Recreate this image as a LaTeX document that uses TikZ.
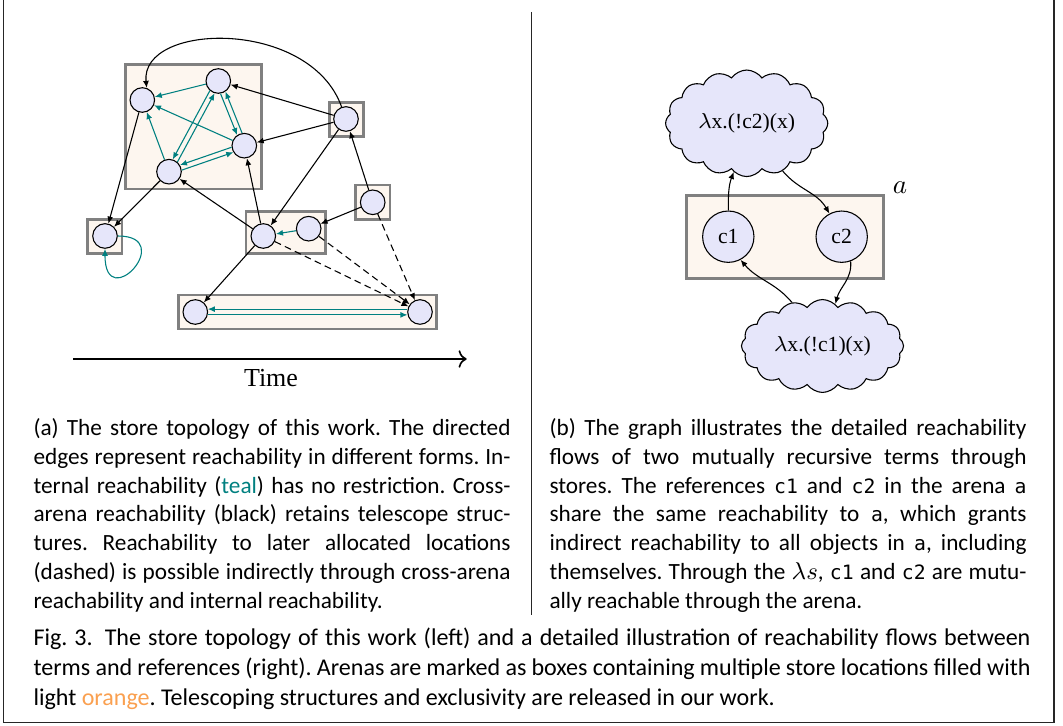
\documentclass[tikz,border=0pt]{standalone}
\usepackage{fontspec}
\setmainfont{Carlito}
\newfontfamily\graphfont{Liberation Serif}
\newfontfamily\codefont{DejaVu Sans Mono}[Scale=0.85]
\usetikzlibrary{arrows.meta,shapes.symbols}

\definecolor{locfill}{RGB}{230,230,250}
\definecolor{arenafill}{RGB}{253,246,239}
\definecolor{arenaline}{RGB}{128,128,128}
\definecolor{lightorange}{RGB}{250,160,80}

\tolerance=10000
\frenchspacing

\tikzset{
  loc/.style={circle, draw, fill=locfill, inner sep=0pt, minimum size=9.1pt},
  refnode/.style={circle, draw, fill=locfill, inner sep=0pt, minimum size=19pt,
    font=\graphfont\fontsize{8}{9}\selectfont},
  cloudterm/.style={cloud, cloud puffs=16, cloud puff arc=110, aspect=1.45, draw, fill=locfill,
    minimum width=60pt, minimum height=30pt, inner sep=0pt,
    font=\graphfont\fontsize{8}{9}\selectfont},
  arena/.style={draw=arenaline, line width=0.9pt, fill=arenafill},
  crossedge/.style={-{Latex[length=2.6pt,width=2.2pt]}},
  internaledge/.style={crossedge, teal},
  lateredge/.style={crossedge, dash pattern=on 2.5pt off 1.6pt},
  subcap/.style={anchor=north west, text width=176.5pt, align=justify, inner sep=0pt,
    font=\fontsize{8.6}{10.66}\selectfont},
}

\begin{document}
\begin{tikzpicture}[x=0.37pt, y=0.37pt]
    \useasboundingbox (0,0) rectangle (1063,-726);

    % Frame and separator
    \draw[line width=0.45pt, black!85] (3.5,0) -- (3.5,-722.7) -- (1054,-722.7) -- (1054,0);
    \draw[line width=0.45pt, black!85] (531.7,-12) -- (531.7,-615);

    % Arenas (left)
    \draw[arena] (125.7,-64.3) rectangle (261.7,-189);
    \draw[arena] (329.3,-102.3) rectangle (363.7,-136.3);
    \draw[arena] (355.7,-185) rectangle (390,-219.3);
    \draw[arena] (246,-211.7) rectangle (325.7,-253.3);
    \draw[arena] (87.7,-219.3) rectangle (122,-253.3);
    \draw[arena] (178.3,-295) rectangle (436.7,-329);

    % Store locations
    \node[loc] (t1) at (142.3,-100) {};
    \node[loc] (t2) at (218.3,-81) {};
    \node[loc] (t3) at (244.3,-145.7) {};
    \node[loc] (t4) at (169,-171.7) {};
    \node[loc] (e1) at (346,-119) {};
    \node[loc] (f1) at (372.7,-202.3) {};
    \node[loc] (g1) at (263.3,-236) {};
    \node[loc] (g2) at (308.7,-228.7) {};
    \node[loc] (h1) at (105,-236) {};
    \node[loc] (i1) at (195.3,-312) {};
    \node[loc] (i2) at (420,-312) {};

    % Internal reachability
    \foreach \from in {t2,t3,t4}
        \draw[internaledge] (\from) -- (t1);
    \draw[internaledge] (t2.229) -- (t4.73);
    \draw[internaledge] (t4.49) -- (t2.253);
    \draw[internaledge] (t2.-80) -- (t3.124);
    \draw[internaledge] (t3.100) -- (t2.-56);
    \draw[internaledge] (t3.187) -- (t4.31);
    \draw[internaledge] (t4.7) -- (t3.211);
    \draw[internaledge] (g2) -- (g1);
    \draw[internaledge] (i2.167) -- (i1.13);
    \draw[internaledge] (i1.-13) -- (i2.193);
    \draw[internaledge] (h1.east) .. controls +(60,0) and +(0,-67) .. (h1.south);

    % Cross-arena reachability
    \foreach \from/\to in {e1/t2,e1/t3,f1/e1,e1/g1,g1/t3,g1/t4,t1/h1,t4/h1,f1/g2,g1/i1}
        \draw[crossedge] (\from) -- (\to);
    \draw[crossedge] (e1.110) .. controls (310,-18) and (140,-22) .. (t1.70);

    % Later allocated locations
    \foreach \from in {g1,g2,f1}
        \draw[lateredge] (\from) -- (i2);

    % Timeline
    \coordinate (tstart) at (73.3,-359);
    \coordinate (tend) at (466.7,-359);
    \draw[semithick, -{To[length=3pt,width=6.5pt]}] (tstart) -- (tend);
    \node[font=\graphfont\fontsize{9.6}{11}\selectfont] (timelabel) at (271,-378) {Time};

    % Arena a (right)
    \draw[arena] (686.7,-195.7) rectangle (883.3,-278.3);
    \node[font=\fontsize{9.6}{11}\selectfont] (alabel) at (900,-188) {$a$};
    \node[refnode] (c1) at (728.3,-236.7) {c1};
    \node[refnode] (c2) at (841.7,-236.7) {c2};
    \node[cloudterm] (lamtop) at (746.7,-123.3) {$\lambda$x.(!c2)(x)};
    \node[cloudterm, aspect=1.7] (lambot) at (822.5,-346) {$\lambda$x.(!c1)(x)};

    \draw[crossedge] (c1.north) to[out=90, in=-110] (lamtop.255);
    \draw[crossedge] (lamtop.307) to[out=-50, in=120] (c2.118);
    \draw[crossedge] (c2.290) to[out=-85, in=75] (lambot.73);
    \draw[crossedge] (lambot.125) to[out=130, in=-50] (c1.298);

    % Subcaptions
    \node[subcap] (capa) at (33,-418) {(a) The store topology of this work. The directed\linebreak
        edges represent reachability in different forms. In-\linebreak
        ternal reachability ({\color{teal}teal}) has no restriction. Cross-\linebreak
        arena reachability (black) retains telescope struc-\linebreak
        tures. Reachability to later allocated locations\linebreak
        (dashed) is possible indirectly through cross-arena\linebreak
        reachability and internal reachability.};
    \node[subcap] (capb) at (549,-418) {(b) The graph illustrates the detailed reachability\linebreak
        flows of two mutually recursive terms through\linebreak
        stores. The references {\codefont c1} and {\codefont c2} in the arena {\codefont a}\linebreak
        share the same reachability to {\codefont a}, which grants\linebreak
        indirect reachability to all objects in {\codefont a}, including\linebreak
        themselves. Through the $\lambda s$, {\codefont c1} and {\codefont c2} are mutu-\linebreak
        ally reachable through the arena.};

    % Figure caption
    \node[subcap, text width=368.9pt, font=\fontsize{8.9}{11.1}\selectfont] (figcap) at (33,-627)
        {Fig.~3.\enspace The store topology of this work (left) and a detailed illustration of reachability flows between\linebreak
        terms and references (right). Arenas are marked as boxes containing multiple store locations filled with\linebreak
        light {\color{lightorange}orange}. Telescoping structures and exclusivity are released in our work.};
\end{tikzpicture}
\end{document}
